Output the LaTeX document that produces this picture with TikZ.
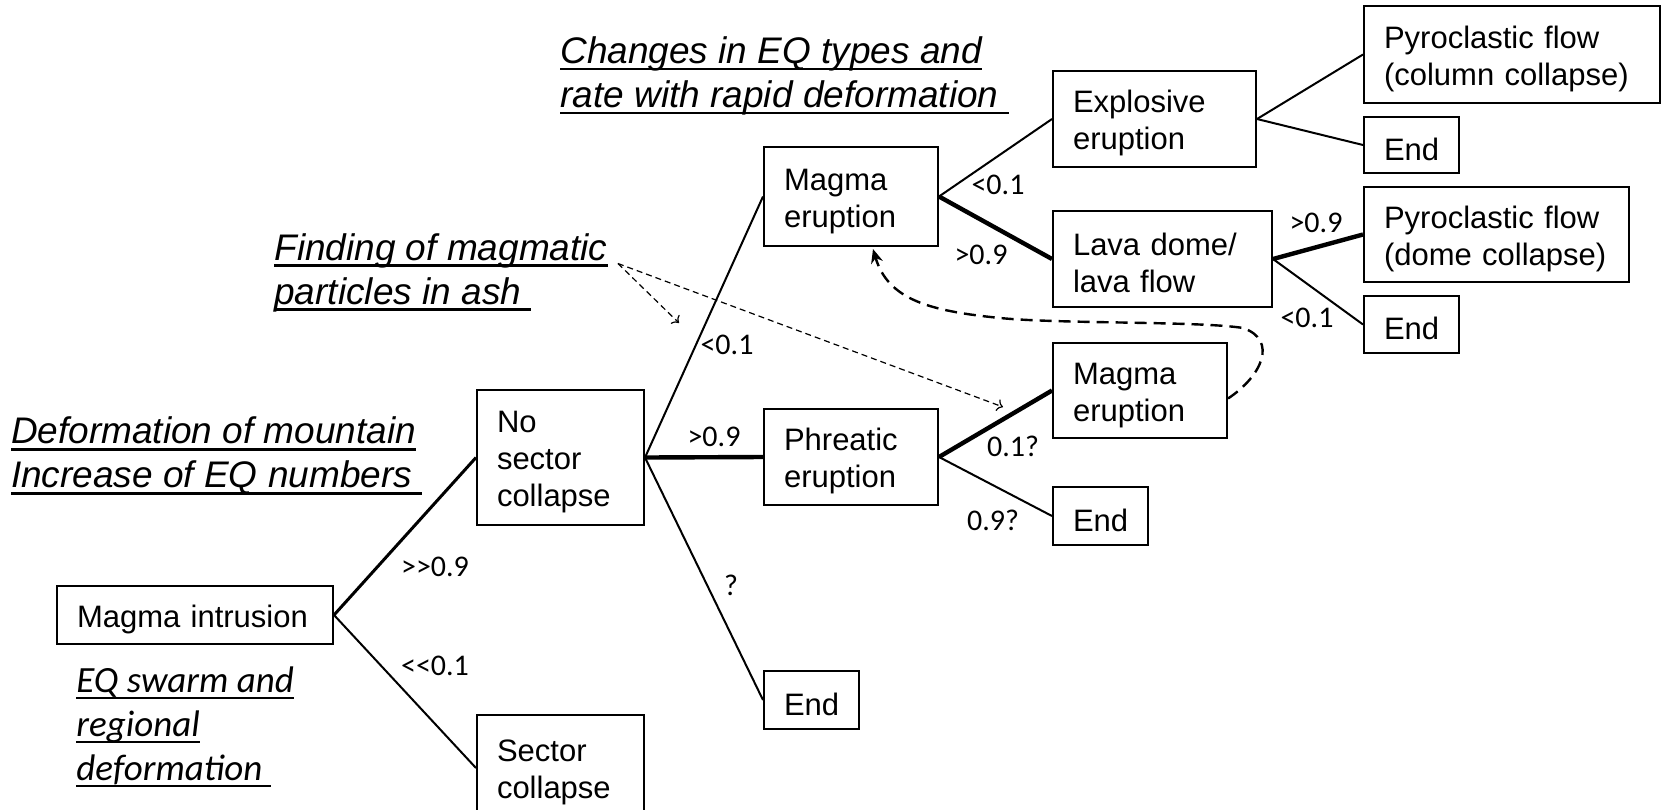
\documentclass[tikz,border=0pt]{standalone}
\usepackage{fontspec}
\setmainfont{Liberation Sans}
\newfontfamily\calfont{Carlito}
\usepackage{tikz}
\usetikzlibrary{arrows.meta,positioning,calc}
\newsavebox{\undlbox}
\newcommand{\undl}[1]{\sbox{\undlbox}{#1}\rlap{\smash{\rule[-3.4pt]{\wd\undlbox}{1.2pt}}}\usebox{\undlbox}}

\begin{document}
\begin{tikzpicture}[x=0.5pt, y=-0.5pt, font=\fontsize{15.5}{18.5}\selectfont,
  box/.style={draw, line width=1pt, inner xsep=10pt, inner ysep=0pt, align=left, anchor=west,
    execute at begin node={\rule{0pt}{15.5pt}}},
  branch/.style={line width=1pt},
  midbranch/.style={line width=1.5pt},
  mainbranch/.style={line width=2.2pt},
  prob/.style={font=\calfont\fontsize{15}{17}\selectfont, inner sep=0pt},
  heading/.style={font=\itshape\fontsize{18.5}{22}\selectfont, align=left, anchor=west, inner sep=0pt},
  hint/.style={dash pattern=on 3pt off 2pt, line width=0.6pt, ->},
  loopback/.style={dash pattern=on 6pt off 3.5pt, line width=1.2pt, -{Stealth[length=7pt, width=6pt]}}]
  \useasboundingbox (0,0) rectangle (1663,809);

  % observations
  \node[heading] (changes) at (560,76) {\undl{Changes in EQ types and}\\ \undl{rate with rapid deformation\ }};
  \node[heading] (finding) at (274,272.5) {\undl{Finding of magmatic}\\ \undl{particles in ash\ }};
  \node[heading] (deform) at (10.6,456) {\undl{Deformation of mountain}\\ \undl{Increase of EQ numbers\ }};
  \node[heading, font=\calfont\itshape\fontsize{18.5}{22}\selectfont] (swarm) at (76,725.5) {\undl{EQ swarm and}\\ \undl{regional}\\ \undl{deformation\ }};

  % event tree
  \node[box, text width=118pt, minimum height=29pt] (intrusion) at (56,615) {Magma intrusion};
  \node[box, text width=63.5pt, minimum height=67.5pt] (nosector) at (476,457.5) {No\\ sector\\ collapse};
  \node[box, text width=63.5pt, minimum height=53pt] (sector) at (476,768) {Sector\\ collapse};
  \node[box, text width=67pt, minimum height=49.5pt] (magma1) at (763,196.5) {Magma\\ eruption};
  \node[box, text width=67pt, minimum height=48pt] (phreatic) at (763,457) {Phreatic\\ eruption};
  \node[box, minimum height=29pt] (end1) at (763,700) {End};
  \node[box, text width=81.5pt, minimum height=48pt] (explosive) at (1052,119) {Explosive\\ eruption};
  \node[box, text width=89.5pt, minimum height=48pt] (lava) at (1052,259) {Lava dome/\\ lava flow};
  \node[box, text width=67pt, minimum height=47.5pt] (magma2) at (1052,390.5) {Magma\\ eruption};
  \node[box, minimum height=29pt] (end2) at (1052,516) {End};
  \node[box, text width=128pt, minimum height=48.5pt] (pyrocol) at (1363,54.5) {Pyroclastic flow\\ (column collapse)};
  \node[box, minimum height=28pt] (end3) at (1363,145) {End};
  \node[box, text width=112.5pt, minimum height=47.5pt] (pyrodome) at (1363,234.5) {Pyroclastic flow\\ (dome collapse)};
  \node[box, minimum height=28.5pt] (end4) at (1363,324.5) {End};

  \draw[midbranch] (intrusion.east) -- (nosector.west);
  \draw[branch] (intrusion.east) -- (sector.west);
  \draw[branch] (nosector.east) -- (magma1.west);
  \draw[mainbranch] (nosector.east) -- (phreatic.west);
  \draw[branch] (nosector.east) -- (end1.west);
  \draw[branch] (magma1.east) -- (explosive.west);
  \draw[mainbranch] (magma1.east) -- (lava.west);
  \draw[branch] (explosive.east) -- (pyrocol.west);
  \draw[branch] (explosive.east) -- (end3.west);
  \draw[mainbranch] (lava.east) -- (pyrodome.west);
  \draw[branch] (lava.east) -- (end4.west);
  \draw[mainbranch] (phreatic.east) -- (magma2.west);
  \draw[branch] (phreatic.east) -- (end2.west);

  % probabilities
  \node[prob] (p1) at (435,567) {>{}>0.9};
  \node[prob] (p2) at (435,666) {<{}<0.1};
  \node[prob] (p3) at (727,345) {<0.1};
  \node[prob] (p4) at (714,437) {>0.9};
  \node[prob] (p5) at (731,585) {?};
  \node[prob] (p6) at (998,184.5) {<0.1};
  \node[prob] (p7) at (981,254.5) {>0.9};
  \node[prob] (p8) at (1013,446.5) {0.1?};
  \node[prob] (p9) at (993,520.5) {0.9?};
  \node[prob] (p10) at (1316,223) {>0.9};
  \node[prob] (p11) at (1307,318) {<0.1};

  % ash hints and feedback
  \coordinate (ashfrom) at ($(finding.east)+(10,-9)$);
  \coordinate (hintA) at (679,323);
  \coordinate (hintB) at (1003,407);
  \draw[hint] (ashfrom) -- (hintA);
  \draw[hint] (ashfrom) -- (hintB);
  \draw[loopback] ($(magma2.east)+(0,8)$) .. controls (1262,376) and (1278,340) .. (1243,328)
    .. controls (1200,321) and (1060,324) .. (1000,318)
    .. controls (930,311) and (888,300) .. ($(magma1.south)+(22,2)$);
\end{tikzpicture}
\end{document}
